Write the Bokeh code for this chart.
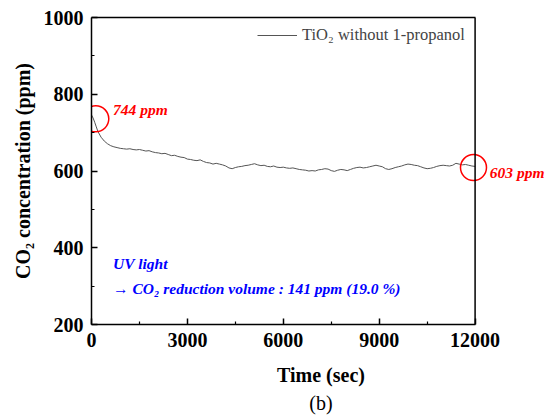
from bokeh.plotting import figure
from bokeh.models import FixedTicker, Range1d, Label, Legend, LegendItem, Title, Span, LinearAxis
from bokeh.embed import file_html
from bokeh.resources import INLINE

# ---- data ----
time_head = [0, 50, 100, 150, 200, 300, 400, 500, 600, 700, 800, 900]
conc_head = [746, 738, 727, 715, 703, 688, 678, 671, 666, 663, 661, 659]
time_tail = list(range(1000, 12001, 100))
conc_tail = [658, 657, 658, 656, 655, 656, 654, 652, 653, 650, 648,
             647, 645, 646, 643, 640, 641, 638, 636, 635, 631,
             630, 628, 627, 629, 625, 622, 621, 618, 620, 618,
             616, 613, 608, 606, 609, 611, 612, 614, 615, 617,
             619, 616, 614, 615, 612, 611, 613, 610, 609, 610,
             608, 607, 608, 606, 604, 603, 602, 600, 601, 600,
             603, 604, 606, 605, 601, 599, 602, 604, 603, 601,
             604, 607, 609, 610, 608, 609, 611, 613, 615, 613,
             611, 606, 604, 606, 609, 611, 613, 616, 618, 617,
             615, 614, 611, 608, 606, 607, 609, 612, 614, 615,
             614, 613, 615, 620, 618, 616, 617, 615, 613, 612]
time_s = time_head + time_tail
conc_ppm = conc_head + conc_tail

x_ticks = [0, 3000, 6000, 9000, 12000]
x_minor = [1500, 4500, 7500, 10500]
y_ticks = [200, 400, 600, 800, 1000]
y_minor = [300, 500, 700, 900]
X_MIN, X_MAX = 0, 12000
Y_MIN, Y_MAX = 200, 1000

mark_t = [134, 11950]
mark_c = [736, 609]

FONT = "Liberation Serif"

# frame extends to the right of the 12000 border so the right-hand note is not clipped
p = figure(frame_width=459, frame_height=307, output_backend="svg", toolbar_location=None,
           x_range=Range1d(X_MIN, 14359), y_range=Range1d(Y_MIN, Y_MAX),
           min_border=0, min_border_left=91, min_border_right=0, min_border_top=17,
           min_border_bottom=0)
p.grid.visible = False
p.background_fill_color = "white"
p.border_fill_color = "white"
p.outline_line_color = None

for ax in (p.xaxis[0], p.yaxis[0]):
    ax.axis_line_width = 1.5
    ax.major_tick_in = 6
    ax.major_tick_out = 0
    ax.minor_tick_in = 3
    ax.minor_tick_out = 0
    ax.major_tick_line_width = 1.5
    ax.minor_tick_line_width = 1.2
    ax.major_label_text_font = FONT
    ax.major_label_text_font_style = "bold"
    ax.major_label_text_font_size = "20px"
    ax.major_label_text_color = "black"
    ax.axis_label_text_font = FONT
    ax.axis_label_text_font_style = "bold"
    ax.axis_label_text_font_size = "20px"
    ax.axis_label_text_color = "black"

p.xaxis.ticker = FixedTicker(ticks=x_ticks, minor_ticks=x_minor)
p.yaxis.ticker = FixedTicker(ticks=y_ticks, minor_ticks=y_minor)
p.xaxis.bounds = (X_MIN, X_MAX)
p.xaxis.axis_label = "Time (sec)"
p.yaxis.axis_label = "CO\u2082 concentration (ppm)"
p.xaxis.major_label_standoff = 8
p.xaxis.axis_label_standoff = 14
p.yaxis.major_label_standoff = 8
p.yaxis.axis_label_standoff = 7

# top border as a bare axis
top = LinearAxis(bounds=(X_MIN, X_MAX), ticker=FixedTicker(ticks=[]), major_label_text_font_size="0px",
                 major_tick_in=0, major_tick_out=0, minor_tick_in=0, minor_tick_out=0,
                 major_label_standoff=0, axis_line_width=1.5)
p.add_layout(top, "above")
# right border
p.add_layout(Span(location=X_MAX, dimension="height", line_color="black", line_width=1.5))

r = p.line(time_s, conc_ppm, line_color="#555555", line_width=1)

legend = Legend(items=[LegendItem(label="TiO\u2082 without 1-propanol", renderers=[r])],
                location=(166, 279), border_line_color=None, background_fill_alpha=0,
                label_text_font=FONT, label_text_font_size="16.5px", glyph_width=40, glyph_height=20,
                label_standoff=5, margin=0, padding=0)
p.add_layout(legend)

p.scatter(mark_t, mark_c, marker="circle", size=26,
          fill_color=None, line_color="red", line_width=1.5)

red_kw = dict(text_font=FONT, text_font_style="bold italic", text_font_size="15.5px",
              text_color="red", text_baseline="middle")
p.add_layout(Label(x=676, y=759, text="744 ppm", **red_kw))
p.add_layout(Label(x=12459, y=596, text="603 ppm", **red_kw))

blue_kw = dict(text_font=FONT, text_font_style="bold italic", text_font_size="15.5px",
               text_color="blue", text_baseline="middle")
p.add_layout(Label(x=676, y=358, text="UV light", **blue_kw))
p.add_layout(Label(x=676, y=294, text="\u2192 CO\u2082 reduction volume : 141 ppm (19.0 %)", **blue_kw))

cap = Title(text="(b)", align="center", text_font=FONT, text_font_size="20px",
            text_font_style="normal", text_color="black", standoff=3)
p.add_layout(cap, "below")

open("out.html", "w").write(file_html(p, INLINE))
